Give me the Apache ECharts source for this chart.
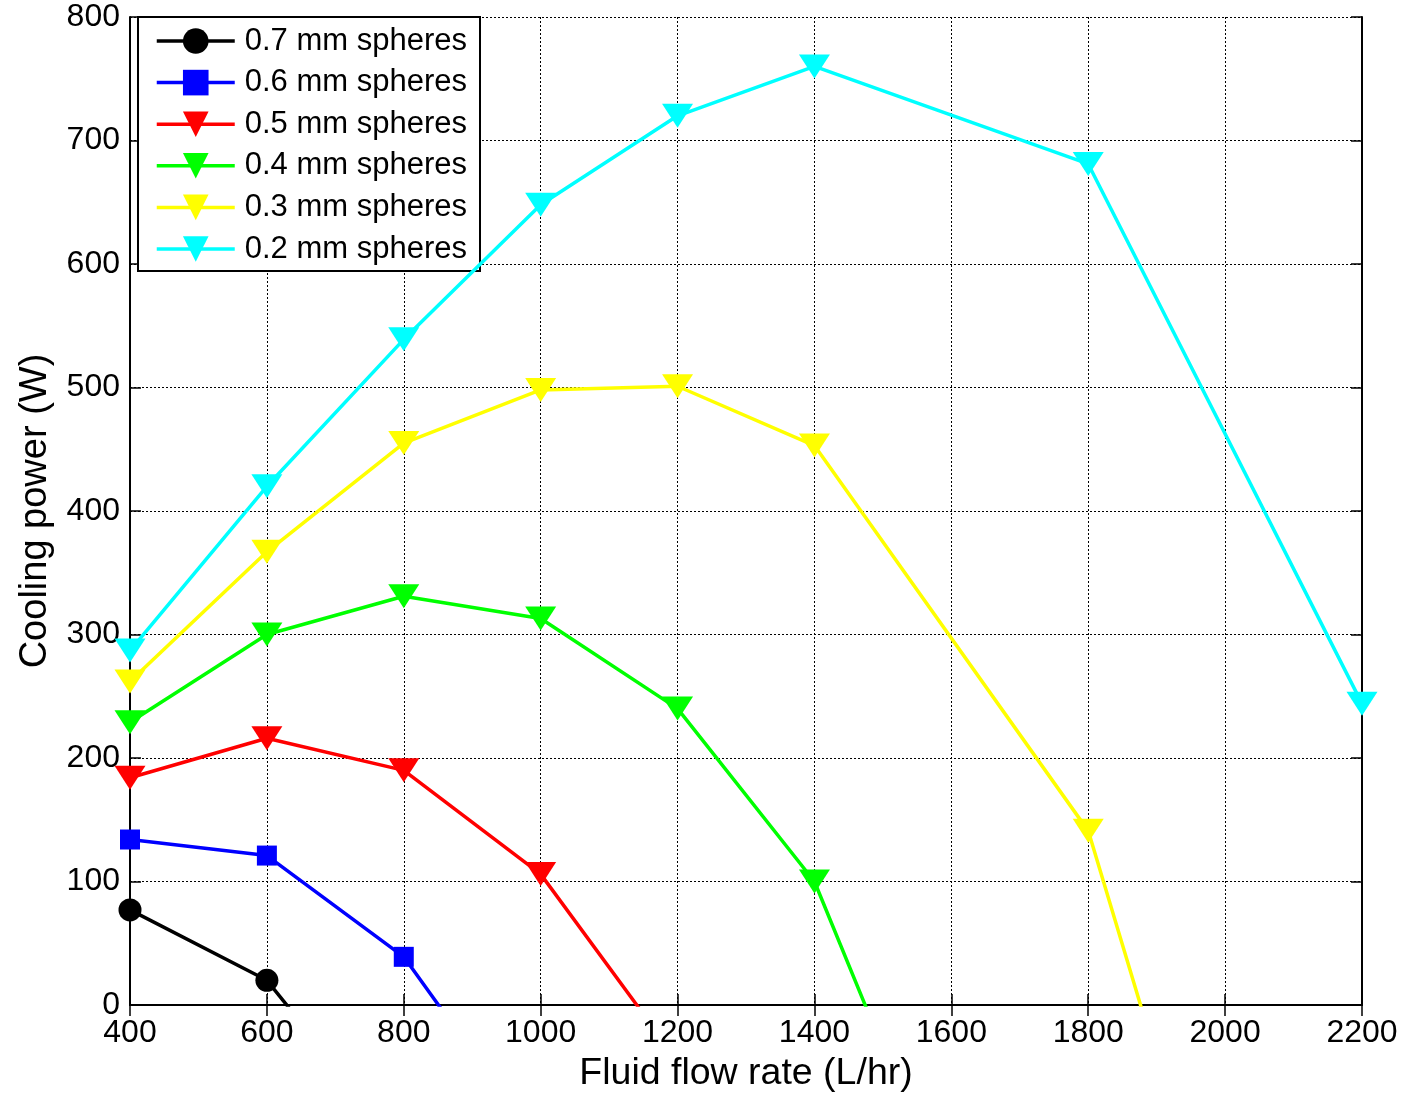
<!DOCTYPE html>
<html>
<head>
<meta charset="utf-8">
<script src="https://cdn.jsdelivr.net/npm/echarts@6/dist/echarts.min.js"></script>
<style>html,body{margin:0;padding:0;background:#fff}#c{width:1403px;height:1094px}</style>
</head>
<body>
<div id="c"></div>
<script>
// Flow rates (L/hr)
const flowRates = [400, 600, 800, 1000, 1200, 1400, 1600, 1800, 2000, 2200];
// Cooling power (W); the last value of each curve continues below 0 and is clipped by the axis
const s07 = [[400, 77], [600, 20], [800, -118]];
const s06 = [[400, 134], [600, 121], [800, 39], [1000, -115]];
const s05 = [[400, 184], [600, 216], [800, 190], [1000, 106], [1200, -45]];
const s04 = [[400, 229], [600, 300], [800, 331], [1000, 313], [1200, 240], [1400, 100], [1600, -170]];
const s03 = [[400, 262], [600, 367], [800, 455], [1000, 498], [1200, 501], [1400, 453], [1800, 141], [2000, -228]];
const s02 = [[400, 287], [600, 420], [800, 539], [1000, 648], [1200, 720], [1400, 760], [1800, 681], [2200, 244]];
const seriesNames = ['0.7 mm spheres', '0.6 mm spheres', '0.5 mm spheres', '0.4 mm spheres', '0.3 mm spheres', '0.2 mm spheres'];
const yTicks = [0, 100, 200, 300, 400, 500, 600, 700, 800];

const FONT = "'Liberation Sans', Arial, Helvetica, sans-serif";
const colors = ['#000000', '#0000ff', '#ff0000', '#00ff00', '#ffff00', '#00ffff'];
const datas = [s07, s06, s05, s04, s03, s02];
const symbols = ['circle', 'rect', 'triangle', 'triangle', 'triangle', 'triangle'];
const sizes = [23, 20, [31, 24], [31, 24], [31, 24], [31, 24]];

const chart = echarts.init(document.getElementById('c'), null, {renderer: 'canvas'});
const tickStyle = {show: true, inside: true, length: 11, lineStyle: {color: '#000', width: 1.5}};
const axisLineStyle = {show: true, lineStyle: {color: '#000', width: 2}};
chart.setOption({
  animation: false,
  backgroundColor: '#fff',
  grid: {left: 130, right: 41, top: 17, bottom: 89, containLabel: false, outerBoundsMode: 'none'},
  legend: {
    orient: 'vertical', left: 138, top: 17,
    data: seriesNames,
    itemWidth: 78, itemHeight: 32, itemGap: 7.6,
    padding: [7, 13, 5, 17],
    backgroundColor: '#fff', borderColor: '#000', borderWidth: 2, borderRadius: 0,
    textStyle: {fontFamily: FONT, fontSize: 31, color: '#000', lineHeight: 34, padding: [0, 0, 0, 5]},
    lineStyle: {width: 3.5},
    itemStyle: {borderWidth: 0}
  },
  xAxis: [{
    type: 'value', min: flowRates[0], max: flowRates[flowRates.length - 1], interval: 200,
    position: 'bottom',
    axisLine: axisLineStyle, axisTick: tickStyle,
    axisLabel: {fontFamily: FONT, fontSize: 32, color: '#000', margin: 12, formatter: v => String(v)},
    splitLine: {show: true, lineStyle: {color: '#000', type: [2, 2], width: 1}},
    name: 'Fluid flow rate (L/hr)', nameLocation: 'middle', nameGap: 50,
    nameTextStyle: {fontFamily: FONT, fontSize: 37.5, color: '#000'}
  }, {
    type: 'value', min: flowRates[0], max: flowRates[flowRates.length - 1], interval: 200,
    position: 'top',
    axisLine: axisLineStyle, axisTick: tickStyle, axisLabel: {show: false}, splitLine: {show: false}
  }],
  yAxis: [{
    type: 'value', min: yTicks[0], max: yTicks[yTicks.length - 1], interval: 100,
    position: 'left',
    axisLine: axisLineStyle, axisTick: tickStyle,
    axisLabel: {fontFamily: FONT, fontSize: 32, color: '#000', margin: 10, formatter: v => String(v)},
    splitLine: {show: true, lineStyle: {color: '#000', type: [2, 2], width: 1}},
    name: 'Cooling power (W)', nameLocation: 'middle', nameGap: 75, nameRotate: 90,
    nameTextStyle: {fontFamily: FONT, fontSize: 38, color: '#000'}
  }, {
    type: 'value', min: yTicks[0], max: yTicks[yTicks.length - 1], interval: 100,
    position: 'right',
    axisLine: axisLineStyle, axisTick: tickStyle, axisLabel: {show: false}, splitLine: {show: false}
  }],
  series: datas.map((d, i) => ({
    name: seriesNames[i],
    type: 'line',
    data: d,
    clip: true,
    symbol: symbols[i],
    symbolSize: sizes[i],
    symbolRotate: symbols[i] === 'triangle' ? 180 : 0,
    showAllSymbol: true,
    lineStyle: {color: colors[i], width: 3.5},
    itemStyle: {color: colors[i], borderWidth: 0},
    emphasis: {disabled: true},
    z: 2 + i
  }))
});
</script>
</body>
</html>
